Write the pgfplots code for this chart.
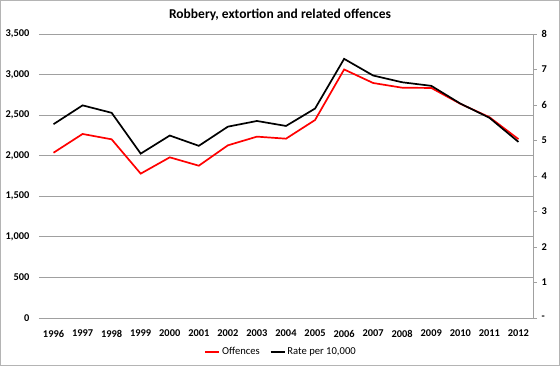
\documentclass[border=0pt]{standalone}
\usepackage{pgfplots}
\pgfplotsset{compat=1.18}
\usepackage{fontspec}
\setmainfont{Carlito}
\definecolor{gridgray}{HTML}{A0A0A0}
\definecolor{framegray}{HTML}{B4B4B4}
\begin{document}
\begin{tikzpicture}
\pgfplotstableread{
year offences
1996 2037
1997 2268
1998 2202
1999 1779
2000 1980
2001 1877
2002 2128
2003 2235
2004 2210
2005 2440
2006 3063
2007 2896
2008 2838
2009 2835
2010 2640
2011 2475
2012 2204
}\offences
\pgfplotstableread{
year rate
1996 5.46
1997 5.99
1998 5.78
1999 4.63
2000 5.14
2001 4.85
2002 5.39
2003 5.55
2004 5.41
2005 5.90
2006 7.30
2007 6.83
2008 6.64
2009 6.54
2010 6.04
2011 5.64
2012 4.96
}\rate
\draw[framegray, line width=0.8pt] (-38.6bp,-47.6bp) rectangle (520.6bp,317.6bp);
\node[font=\bfseries\fontsize{13.5bp}{15bp}\selectfont, anchor=center] at (241bp,303bp) {Robbery, extortion and related offences};
\begin{axis}[
  at={(0,0)}, anchor=origin,
  scale only axis, width=494bp, height=284bp,
  xmin=1995.5, xmax=2012.5, ymin=0, ymax=3500,
  xtick={1996,...,2012}, ytick={0,500,...,3500},
  axis line style={draw=none},
  major tick length=0pt,
  ymajorgrids, grid style={gridgray, line width=0.8pt},
  /pgf/number format/assume math mode=true,
  xticklabel style={/pgf/number format/1000 sep={}, font=\bfseries\fontsize{10.4bp}{12bp}\selectfont, yshift=-8.5bp},
  yticklabel style={/pgf/number format/1000 sep={,}, font=\bfseries\fontsize{10.4bp}{12bp}\selectfont, xshift=-6bp},
  clip=false,
]
\draw[gridgray, line width=0.8pt] (axis cs:1995.5,0) -- (axis cs:2012.5,0);
\addplot[red, line width=1.7bp] table[x=year, y=offences] {\offences};
\end{axis}
\begin{axis}[
  at={(0,0)}, anchor=origin,
  scale only axis, width=494bp, height=284bp,
  xmin=1995.5, xmax=2012.5, ymin=0, ymax=8,
  axis x line=none,
  axis y line*=right,
  axis line style={gridgray, line width=0.8pt},
  ytick={0,...,8}, yticklabels={-,1,2,3,4,5,6,7,8},
  tick align=outside, major tick length=4bp,
  ytick style={gridgray, line width=0.8pt},
  /pgf/number format/assume math mode=true,
  yticklabel style={font=\bfseries\fontsize{10.4bp}{12bp}\selectfont, xshift=1bp},
  legend style={at={(0.49,-0.12)}, anchor=center, draw=none, fill=none,
    font=\fontsize{10.6bp}{12bp}\selectfont, /tikz/every even column/.append style={column sep=8bp}},
  legend columns=2,
  legend image code/.code={\draw[#1] (0bp,0bp) -- (14bp,0bp);},
  clip=false,
]
\addlegendimage{red, line width=1.7bp}
\addlegendentry{Offences}
\addplot[black, line width=1.7bp] table[x=year, y=rate] {\rate};
\addlegendentry{Rate per 10,000}
\end{axis}
\end{tikzpicture}
\end{document}
